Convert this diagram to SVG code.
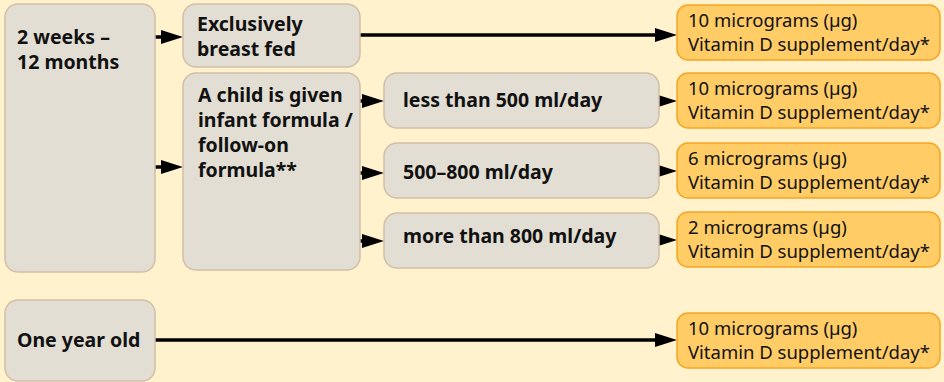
<svg xmlns="http://www.w3.org/2000/svg" width="944" height="382" viewBox="0 0 944 382">
<style>
.g{fill:#E3DED3;stroke:#D2BFA8;stroke-width:1.5}
.o{fill:#FFCC66;stroke:#F5A623;stroke-width:1.5}
.b{font-family:"Noto Sans","Liberation Sans",sans-serif;font-weight:bold;font-size:19.5px;fill:#111}
.r{font-family:"Noto Sans","Liberation Sans",sans-serif;font-size:18.5px;fill:#111}
.c{fill:none;stroke:#000;stroke-width:3.5;marker-end:url(#ah)}
</style>
<defs>
<marker id="ah" viewBox="0 0 22 14" markerUnits="userSpaceOnUse" markerWidth="22" markerHeight="14" refX="14" refY="7" orient="auto">
<path d="M0,0 L22,7 L0,14 z" fill="#000"/>
</marker>
</defs>
<rect width="944" height="382" fill="#FFF2CC"/>
<g id="connectors">
<path class="c" d="M155,37 H175"/>
<path class="c" d="M360,35 H669"/>
<path class="c" d="M155,167 H175"/>
<path class="c" d="M356,101 H376"/>
<path class="c" d="M356,173 H376"/>
<path class="c" d="M356,241 H376"/>
<path class="c" d="M659,101 H669"/>
<path class="c" d="M659,171 H669"/>
<path class="c" d="M659,240 H669"/>
<path class="c" d="M155,340 H669"/>
</g>
<g id="n-age1"><rect class="g" x="5" y="4" width="150" height="268" rx="13"/>
<text class="b" x="17" y="44">2 weeks –</text><text class="b" x="17" y="69">12 months</text></g>
<g id="n-breast"><rect class="g" x="183" y="4" width="177" height="63" rx="13"/>
<text class="b" x="197" y="31">Exclusively</text><text class="b" x="197" y="56">breast fed</text></g>
<g id="n-formula"><rect class="g" x="183" y="73" width="177" height="197" rx="13"/>
<text class="b" x="198" y="102">A child is given</text><text class="b" x="198" y="127">infant formula /</text><text class="b" x="198" y="152">follow-on</text><text class="b" x="198" y="177">formula**</text></g>
<g id="n-less500"><rect class="g" x="384" y="73" width="275" height="55" rx="13"/>
<text class="b" x="403" y="107">less than 500 ml/day</text></g>
<g id="n-500800"><rect class="g" x="384" y="143" width="275" height="55" rx="13"/>
<text class="b" x="403" y="179">500–800 ml/day</text></g>
<g id="n-more800"><rect class="g" x="384" y="213" width="275" height="55" rx="13"/>
<text class="b" x="403" y="243">more than 800 ml/day</text></g>
<g id="n-age2"><rect class="g" x="5" y="300" width="150" height="81" rx="13"/>
<text class="b" x="17" y="347">One year old</text></g>
<g id="o1"><rect class="o" x="677" y="5" width="263" height="55" rx="11"/>
<text class="r" x="688" y="27">10 micrograms (µg)</text><text class="r" x="688" y="51">Vitamin D supplement/day*</text></g>
<g id="o2"><rect class="o" x="677" y="73" width="263" height="55" rx="11"/>
<text class="r" x="688" y="95">10 micrograms (µg)</text><text class="r" x="688" y="119">Vitamin D supplement/day*</text></g>
<g id="o3"><rect class="o" x="677" y="143" width="263" height="55" rx="11"/>
<text class="r" x="688" y="165">6 micrograms (µg)</text><text class="r" x="688" y="189">Vitamin D supplement/day*</text></g>
<g id="o4"><rect class="o" x="677" y="212" width="263" height="55" rx="11"/>
<text class="r" x="688" y="234">2 micrograms (µg)</text><text class="r" x="688" y="258">Vitamin D supplement/day*</text></g>
<g id="o5"><rect class="o" x="677" y="313" width="263" height="55" rx="11"/>
<text class="r" x="688" y="335">10 micrograms (µg)</text><text class="r" x="688" y="359">Vitamin D supplement/day*</text></g>
</svg>
